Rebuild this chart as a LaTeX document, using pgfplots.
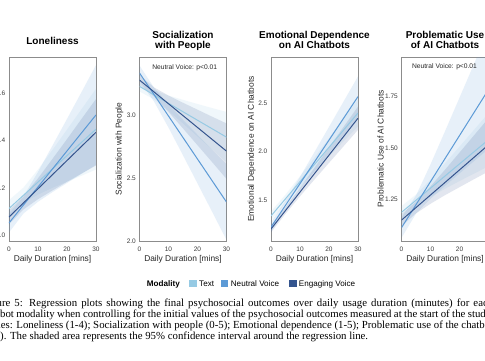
\documentclass[border=0pt]{standalone}
\usepackage{fontspec}
\setmainfont{Liberation Sans}
\newfontfamily\capfont{Liberation Serif}
\usepackage{pgfplots}
\pgfplotsset{compat=1.18}
\definecolor{cText}{RGB}{150,202,228}
\definecolor{cNeut}{RGB}{92,154,214}
\definecolor{cEng}{RGB}{52,84,142}
\definecolor{frame}{RGB}{140,140,140}
\definecolor{ticktxt}{RGB}{60,60,60}
\pgfplotsset{
  panel/.style={
    scale only axis, width=87pt, height=184pt,
    anchor=south west,
    xmin=0, xmax=30, xtick={0,10,20,30},
    axis line style={draw=frame, line width=0.7pt},
    tick style={draw=none},
    tick label style={font=\fontsize{6.5}{7}\selectfont, text=ticktxt, inner sep=0pt},
    /pgf/number format/assume math mode=true,
    xticklabel style={anchor=center, yshift=-8pt},
    yticklabel style={anchor=east, xshift=-3.5pt},
    xlabel={Daily Duration [mins]},
    every axis x label/.style={at={(axis description cs:0.5,-0.098)}, anchor=center, font=\fontsize{8.4}{10}\selectfont, text=black!85},
    every axis y label/.style={at={(axis description cs:-0.23,0.5)}, anchor=center, rotate=90, font=\fontsize{8.4}{10}\selectfont, text=black!85},
  },
  band/.style={draw=none, fill=#1, fill opacity=0.14, forget plot},
  rline/.style={draw=#1, line width=1pt, forget plot},
}
\begin{document}
\begin{tikzpicture}[x=1pt,y=1pt]
\path[use as bounding box, fill=white] (0,0) rectangle (485,360);
\begin{scope}[overlay]
\clip (0,0) rectangle (485,360);
% Panel 1
\begin{axis}[panel, at={(9pt,119pt)}, ymin=0.976, ymax=1.751, ytick={1.0,1.2,1.4,1.6},
  yticklabel style={/pgf/number format/.cd, fixed, fixed zerofill, precision=1},
  ylabel={Loneliness}]
\addplot[band=cText] coordinates {(0,1.148)(5,1.201)(10,1.277)(15,1.360)(20,1.445)(25,1.531)(30,1.617)(30,1.277)(25,1.251)(20,1.226)(15,1.200)(10,1.171)(5,1.137)(0,1.078)};
\addplot[band=cNeut] coordinates {(0,1.092)(5,1.164)(10,1.267)(15,1.378)(20,1.490)(25,1.603)(30,1.717)(30,1.297)(25,1.259)(20,1.220)(15,1.182)(10,1.141)(5,1.092)(0,1.012)};
\addplot[band=cEng] coordinates {(0,1.107)(5,1.164)(10,1.240)(15,1.322)(20,1.405)(25,1.490)(30,1.574)(30,1.294)(25,1.260)(20,1.225)(15,1.189)(10,1.152)(5,1.109)(0,1.047)};
\addplot[rline=cText] coordinates {(0,1.113)(30,1.447)};
\addplot[rline=cNeut] coordinates {(0,1.052)(30,1.507)};
\addplot[rline=cEng] coordinates {(0,1.077)(30,1.434)};
\end{axis}
% Panel 2
\begin{axis}[panel, at={(139.5pt,119pt)}, ymin=2.0, ymax=3.46, ytick={2.0,2.5,3.0},
  yticklabel style={/pgf/number format/.cd, fixed, fixed zerofill, precision=1},
  ylabel={Socialization with People}]
\addplot[band=cText] coordinates {(0,3.267)(5,3.197)(10,3.154)(15,3.120)(20,3.087)(25,3.055)(30,3.024)(30,2.624)(25,2.727)(20,2.829)(15,2.932)(10,3.032)(5,3.124)(0,3.187)};
\addplot[band=cNeut] coordinates {(0,3.393)(5,3.217)(10,3.084)(15,2.962)(20,2.843)(25,2.726)(30,2.609)(30,2.009)(25,2.234)(20,2.457)(15,2.680)(10,2.900)(5,3.107)(0,3.273)};
\addplot[band=cEng] coordinates {(0,3.317)(5,3.219)(10,3.154)(15,3.097)(20,3.042)(25,2.987)(30,2.933)(30,2.493)(25,2.627)(20,2.760)(15,2.893)(10,3.024)(5,3.147)(0,3.237)};
\addplot[rline=cText] coordinates {(0,3.227)(30,2.824)};
\addplot[rline=cNeut] coordinates {(0,3.333)(30,2.309)};
\addplot[rline=cEng] coordinates {(0,3.277)(30,2.713)};
\end{axis}
% Panel 3
\begin{axis}[panel, at={(271pt,119pt)}, ymin=1.076, ymax=2.979, ytick={1.5,2.0,2.5},
  yticklabel style={/pgf/number format/.cd, fixed, fixed zerofill, precision=1},
  every axis y label/.style={at={(axis description cs:-0.222,0.5)}, anchor=center, rotate=90, font=\fontsize{8.4}{10}\selectfont, text=black!85},
  ylabel={Emotional Dependence on AI Chatbots}]
\addplot[band=cText] coordinates {(0,1.380)(5,1.556)(10,1.745)(15,1.940)(20,2.139)(25,2.339)(30,2.540)(30,2.260)(25,2.106)(20,1.951)(15,1.795)(10,1.635)(5,1.469)(0,1.290)};
\addplot[band=cNeut] coordinates {(0,1.270)(5,1.492)(10,1.739)(15,1.996)(20,2.256)(25,2.517)(30,2.779)(30,2.359)(25,2.171)(20,1.982)(15,1.793)(10,1.601)(5,1.398)(0,1.170)};
\addplot[band=cEng] coordinates {(0,1.235)(5,1.425)(10,1.626)(15,1.834)(20,2.044)(25,2.255)(30,2.466)(30,2.226)(25,2.055)(20,1.884)(15,1.712)(10,1.538)(5,1.357)(0,1.165)};
\addplot[rline=cText] coordinates {(0,1.335)(30,2.400)};
\addplot[rline=cNeut] coordinates {(0,1.220)(30,2.569)};
\addplot[rline=cEng] coordinates {(0,1.200)(30,2.346)};
\end{axis}
% Panel 4
\begin{axis}[panel, at={(401.5pt,119pt)}, ymin=1.045, ymax=1.944, ytick={1.25,1.50,1.75},
  yticklabel style={/pgf/number format/.cd, fixed, fixed zerofill, precision=2},
  every axis y label/.style={at={(axis description cs:-0.241,0.5)}, anchor=center, rotate=90, font=\fontsize{8.4}{10}\selectfont, text=black!85},
  ylabel={Problematic Use of AI Chatbots}]
\addplot[band=cText] coordinates {(0,1.215)(5,1.272)(10,1.345)(15,1.425)(20,1.506)(25,1.588)(30,1.670)(30,1.410)(25,1.374)(20,1.338)(15,1.300)(10,1.261)(5,1.216)(0,1.155)};
\addplot[band=cNeut] coordinates {(0,1.160)(5,1.267)(10,1.419)(15,1.581)(20,1.745)(25,1.910)(30,2.075)(30,1.495)(25,1.435)(20,1.375)(15,1.314)(10,1.251)(5,1.179)(0,1.060)};
\addplot[band=cEng] coordinates {(0,1.177)(5,1.236)(10,1.312)(15,1.393)(20,1.477)(25,1.561)(30,1.645)(30,1.385)(25,1.347)(20,1.308)(15,1.269)(10,1.227)(5,1.180)(0,1.117)};
\addplot[rline=cText] coordinates {(0,1.185)(30,1.540)};
\addplot[rline=cNeut] coordinates {(0,1.110)(30,1.785)};
\addplot[rline=cEng] coordinates {(0,1.147)(30,1.515)};
\end{axis}
% Titles
\begin{scope}[every node/.style={anchor=base, inner sep=0pt, font=\bfseries\fontsize{10}{12}\selectfont}]
\node at (52.5,315.7) {Loneliness};
\node at (183,321.7) {Socialization};
\node at (183,311.5) {with People};
\node at (314.5,321.7) {Emotional Dependence};
\node at (314.5,311.5) {on AI Chatbots};
\node at (445,321.7) {Problematic Use};
\node at (445,311.5) {of AI Chatbots};
\end{scope}
% Annotations
\node[anchor=center, inner sep=0pt, font=\fontsize{6.7}{8}\selectfont, text=black!85] at (184.7,292.5) {Neutral Voice: p<0.01};
\node[anchor=center, inner sep=0pt, font=\fontsize{6.7}{8}\selectfont, text=black!85] at (444.5,293.3) {Neutral Voice: p<0.01};
% Legend
\begin{scope}[every node/.style={anchor=base west, inner sep=0pt, font=\fontsize{8.1}{10}\selectfont}]
\node[font=\bfseries\fontsize{8.1}{10}\selectfont] at (146.7,73.8) {Modality};
\fill[cText] (189.3,73) rectangle (196.8,80.5);
\node at (199,73.8) {Text};
\fill[cNeut] (220.7,73) rectangle (228.2,80.5);
\node at (230.7,73.8) {Neutral Voice};
\fill[cEng] (289.3,73) rectangle (296.8,80.5);
\node at (298.7,73.8) {Engaging Voice};
\end{scope}
% Caption
\begin{scope}[every node/.style={anchor=base west, inner sep=0pt, font=\capfont\fontsize{10.8}{11}\selectfont}]
\node at (-18,54) {\makebox[511pt][s]{Figure 5: Regression plots showing the final psychosocial outcomes over daily usage duration (minutes) for each}};
\node at (-18,43) {\makebox[511pt][s]{chatbot modality when controlling for the initial values of the psychosocial outcomes measured at the start of the study.}};
\node at (-18,31.7) {\makebox[511pt][s]{Scales: Loneliness (1-4); Socialization with people (0-5); Emotional dependence (1-5); Problematic use of the chatbot}};
\node at (-18,20.7) {(1-5). The shaded area represents the 95\% confidence interval around the regression line.};
\end{scope}
\end{scope}
\end{tikzpicture}
\end{document}
